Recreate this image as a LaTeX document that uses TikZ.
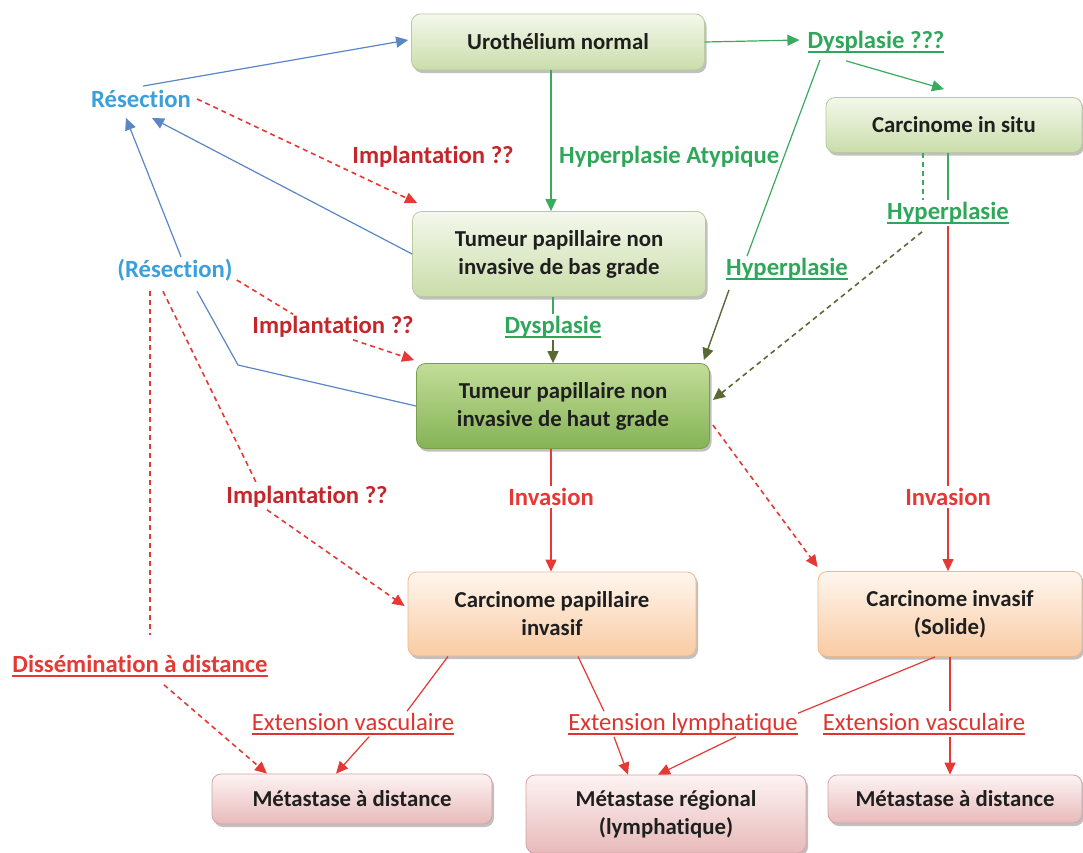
\documentclass[tikz,border=0pt]{standalone}
\usepackage{fontspec}
\setmainfont{Carlito}[Ligatures=NoCommon]
\usetikzlibrary{arrows.meta,shadows}
\definecolor{bline}{HTML}{5B86C5}
\definecolor{btext}{HTML}{3AA0DC}
\definecolor{gline}{HTML}{3AAA5E}
\definecolor{gtext}{HTML}{2FA75A}
\definecolor{oline}{HTML}{5A6A35}
\definecolor{rline}{HTML}{E53935}
\definecolor{rdark}{HTML}{C3272B}
\definecolor{rtext}{HTML}{E0332F}
\definecolor{gtopA}{HTML}{F4F8EC}
\definecolor{gbotA}{HTML}{CADDAA}
\definecolor{gdrawA}{HTML}{B7CB9C}
\definecolor{gtopB}{HTML}{C3DD99}
\definecolor{gbotB}{HTML}{84B355}
\definecolor{gdrawB}{HTML}{79A049}
\definecolor{otop}{HTML}{FFF6EE}
\definecolor{obot}{HTML}{F9CBA3}
\definecolor{odraw}{HTML}{F0B88A}
\definecolor{ptop}{HTML}{FDF3F3}
\definecolor{pbot}{HTML}{E8BABA}
\definecolor{pdraw}{HTML}{D6A2A2}
\newcommand\myul[1]{\setbox0\hbox{#1}\rlap{\rule[-4pt]{\wd0}{1.5pt}}\box0}
\begin{document}
\begin{tikzpicture}[x=1pt,y=-1pt,
  box/.style={rounded corners=9pt, line width=0.8pt, align=center,
    font=\fontsize{22.8}{28}\selectfont\bfseries, text=black!88,
    drop shadow={shadow xshift=2pt,shadow yshift=-3pt,opacity=0.35,fill=black!70}},
  gboxA/.style={box, draw=gdrawA, top color=gtopA, bottom color=gbotA},
  gboxB/.style={box, draw=gdrawB, top color=gtopB, bottom color=gbotB},
  obox/.style={box, draw=odraw, top color=otop, bottom color=obot},
  pbox/.style={box, draw=pdraw, top color=ptop, bottom color=pbot},
  lbl/.style={font=\fontsize{24.7}{28}\selectfont\bfseries, inner sep=2pt},
  blbl/.style={lbl, text=btext},
  rlbl/.style={lbl, text=rdark},
  glbl/.style={lbl, text=gtext},
  elbl/.style={font=\fontsize{24.7}{28}\selectfont, inner sep=2pt, text=rtext},
  tip/.style={-{Triangle[length=12pt,width=11pt]}},
  barrow/.style={bline, line width=1.2pt, tip},
  bln/.style={bline, line width=1.2pt},
  garrow/.style={gline, line width=1.2pt, tip},
  gln/.style={gline, line width=1.2pt},
  gdash/.style={gline, line width=1.6pt, dash pattern=on 5pt off 4pt},
  oarrow/.style={oline, line width=1.4pt, tip},
  odash/.style={oline, line width=1.6pt, dash pattern=on 5pt off 4pt, tip},
  rln/.style={rline, line width=1.2pt},
  rarrow/.style={rline, line width=1.2pt, tip},
  rdash/.style={rline, line width=1.6pt, dash pattern=on 5pt off 4pt},
  rdasharrow/.style={rdash, tip}
]
\fill[white] (0,0) rectangle (1083,852);
\useasboundingbox (0,0) rectangle (1083,852);

% boxes
\node[gboxA, minimum width=293pt, minimum height=56pt] (uro) at (558,42) {Urothélium normal};
\node[gboxA, minimum width=256pt, minimum height=55pt] (cis) at (954,125) {Carcinome in situ};
\node[gboxA, minimum width=293pt, minimum height=85pt] (bas) at (559,254) {Tumeur papillaire non\\invasive de bas grade};
\node[gboxB, minimum width=293pt, minimum height=85pt] (haut) at (563,406) {Tumeur papillaire non\\invasive de haut grade};
\node[obox, minimum width=288pt, minimum height=84pt] (cpi) at (552,614) {Carcinome papillaire\\invasif};
\node[obox, minimum width=264pt, minimum height=85pt] (cinv) at (950,614) {Carcinome invasif\\(Solide)};
\node[pbox, minimum width=280pt, minimum height=50pt] (m1) at (352,799) {Métastase à distance};
\node[pbox, minimum width=280pt, minimum height=78pt] (m2) at (666,814) {Métastase régional\\(lymphatique)};
\node[pbox, minimum width=254pt, minimum height=48pt] (m3) at (955,799) {Métastase à distance};

% labels
\node[blbl] (res1) at (141,99) {Résection};
\node[blbl] (res2) at (175,270) {(Résection)};
\node[rlbl] (imp1) at (433,157) {Implantation ??};
\node[rlbl, fill=white] (imp2) at (333,327) {Implantation ??};
\node[rlbl, fill=white] (imp3) at (307,497) {Implantation ??};
\node[glbl, anchor=west] (hypa) at (557,157) {Hyperplasie Atypique};
\node[glbl] (dys3) at (876,42) {\myul{Dysplasie ???}};
\node[glbl] (hyp1) at (948,213) {\myul{Hyperplasie}};
\node[glbl] (hyp2) at (787,269) {\myul{Hyperplasie}};
\node[glbl] (dys) at (553,327) {\myul{Dysplasie}};
\node[rlbl, text=rline] (inv1) at (551,497) {Invasion};
\node[rlbl, text=rline] (inv2) at (948,497) {Invasion};
\node[lbl, text=rline] (diss) at (140,666) {\myul{Dissémination à distance}};
\node[elbl] (ev1) at (353,724) {\myul{Extension vasculaire}};
\node[elbl] (el) at (683,724) {\myul{Extension lymphatique}};
\node[elbl] (ev2) at (924,724) {\myul{Extension vasculaire}};
\coordinate (bendA) at (238,365);

% blue (résection)
\draw[barrow] ([shift={(2,-2)}]res1.north) -- ([shift={(-3,-2)}]uro.west);
\draw[barrow] (bas.west) -- ([shift={(11,8)}]res1.south);
\draw[barrow] ([shift={(6,0)}]res2.north) -- ([shift={(-15,8)}]res1.south);
\draw[bln] (haut.west) -- (bendA) -- ([shift={(22,8)}]res2.south);

% red dashed implantation
\draw[rdasharrow] ([shift={(4,0)}]res1.east) -- ([shift={(5,-8)}]bas.north west);
\draw[rdash] ([shift={(2,10)}]res2.east) -- ([shift={(-40,0)}]imp2.north);
\draw[rdasharrow] ([shift={(20,0)}]imp2.south) -- ([shift={(-2,-3)}]haut.north west);
\draw[rdash] ([shift={(-12,8)}]res2.south) -- ([shift={(-50,0)}]imp3.north);
\draw[rdasharrow] ([shift={(-40,0)}]imp3.south) -- ([shift={(-3,-8)}]cpi.west);
\draw[rdash] ([shift={(-25,8)}]res2.south) -- ([shift={(10,-18)}]diss.north);
\draw[rdasharrow] ([shift={(24,6)}]diss.south) -- ([shift={(-85,0)}]m1.north);

% green
\draw[garrow] (uro.east) -- ([shift={(-6,-2)}]dys3.west);
\draw[garrow] ([shift={(-30,6)}]dys3.south) -- ([shift={(-10,-8)}]cis.north);
\draw[gln] ([shift={(-56,5)}]dys3.south) -- ([shift={(-40,0)}]hyp2.north);
\draw[oarrow] ([shift={(-58,8)}]hyp2.south) -- ([shift={(-6,-3)}]haut.north east);
\draw[garrow] ([shift={(-7,0)}]uro.south) -- ([shift={(-8,0)}]bas.north);
\draw[gln] (dys.north |- bas.south) -- (dys.north);
\draw[oarrow] (dys.south) -- (dys.south |- haut.north);
\draw[gln] (hyp1.north |- cis.south) -- (hyp1.north);
\draw[gdash] ([shift={(-31,0)}]cis.south) -- ([shift={(-25,0)}]hyp1.north);
\draw[odash] ([shift={(-26,6)}]hyp1.south) -- ([shift={(3,-6)}]haut.east);

% red invasion
\draw[rln] (inv2.north |- hyp1.south) -- (inv2.north);
\draw[rarrow] (inv2.south) -- (inv2.south |- cinv.north);
\draw[rln] (inv1.north |- haut.south) -- (inv1.north);
\draw[rarrow] (inv1.south) -- (inv1.south |- cpi.north);
\draw[rdasharrow] ([shift={(3,19)}]haut.east) -- ([shift={(0,-4)}]cinv.north west);

% extensions
\draw[rln] ([shift={(-104,0)}]cpi.south) -- ([shift={(54,0)}]ev1.north);
\draw[rarrow] ([shift={(16,0)}]ev1.south) -- ([shift={(-16,0)}]m1.north);
\draw[rln] ([shift={(26,0)}]cpi.south) -- ([shift={(-79,0)}]el.north);
\draw[rarrow] ([shift={(-69,0)}]el.south) -- ([shift={(-38,0)}]m2.north);
\draw[rln] ([shift={(-15,0)}]cinv.south) -- ([shift={(115,2)}]el.north);
\draw[rarrow] ([shift={(53,0)}]el.south) -- ([shift={(-8,0)}]m2.north);
\draw[rln] (cinv.south) -- (cinv.south |- ev2.north);
\draw[rarrow] (cinv.south |- ev2.south) -- (cinv.south |- m3.north);
\end{tikzpicture}
\end{document}
